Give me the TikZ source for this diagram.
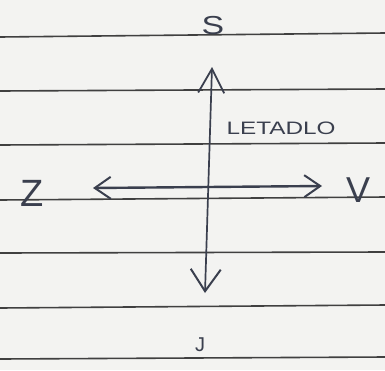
\documentclass[tikz,border=0pt]{standalone}
\usepackage{fontspec}
\setmainfont{Liberation Sans}
\usetikzlibrary{arrows.meta}
\definecolor{paper}{HTML}{F3F3F1}
\definecolor{rule}{HTML}{404040}
\definecolor{pen}{HTML}{3A3F4E}
\tikzset{
  ruleline/.style={draw=rule, line width=1.6pt},
  penline/.style={draw=pen, line width=2pt, line cap=round},
  dir/.style={text=pen, inner sep=0pt},
  lbl/.style={text=pen, font=\fontsize{18}{18}\selectfont, inner sep=0pt, xscale=1.35, transform shape}
}
\begin{document}
\begin{tikzpicture}[x=1pt,y=-1pt]
  \fill[paper] (0,0) rectangle (385,370);
  \useasboundingbox (0,0) rectangle (385,370);
  % ruled lines
  \foreach \a/\b in {37/33, 91/89, 145/143, 200/197, 253/252, 308/305, 359/357}
    \draw[ruleline] (0,\a) -- (385,\b);
  % labels
  \node[dir, font=\fontsize{26}{26}\selectfont, xscale=1.3, transform shape] (S) at (213,26) {S};
  \node[dir, font=\fontsize{20}{20}\selectfont] (J) at (200,345) {J};
  \node[dir, font=\fontsize{38}{38}\selectfont] (Z) at (32,193) {Z};
  \node[dir, font=\fontsize{36}{36}\selectfont] (V) at (358,190) {V};
  \node[lbl] (plane) at (281,128) {LETADLO};
  % arrows
  \coordinate (top) at (212,67);
  \coordinate (bot) at (205,293);
  \coordinate (lft) at (93,188);
  \coordinate (rgt) at (322,186);
  \draw[penline, line width=1.7pt, {Straight Barb[length=24pt,width=26pt,line width=1.8pt]}-{Straight Barb[length=22pt,width=30pt,line width=2pt]}] (top) -- (bot);
  \draw[penline, line width=2.4pt, {Straight Barb[length=16pt,width=22pt,line width=2pt]}-{Straight Barb[length=16pt,width=22pt,line width=2pt]}] (lft) -- (rgt);
\end{tikzpicture}
\end{document}
